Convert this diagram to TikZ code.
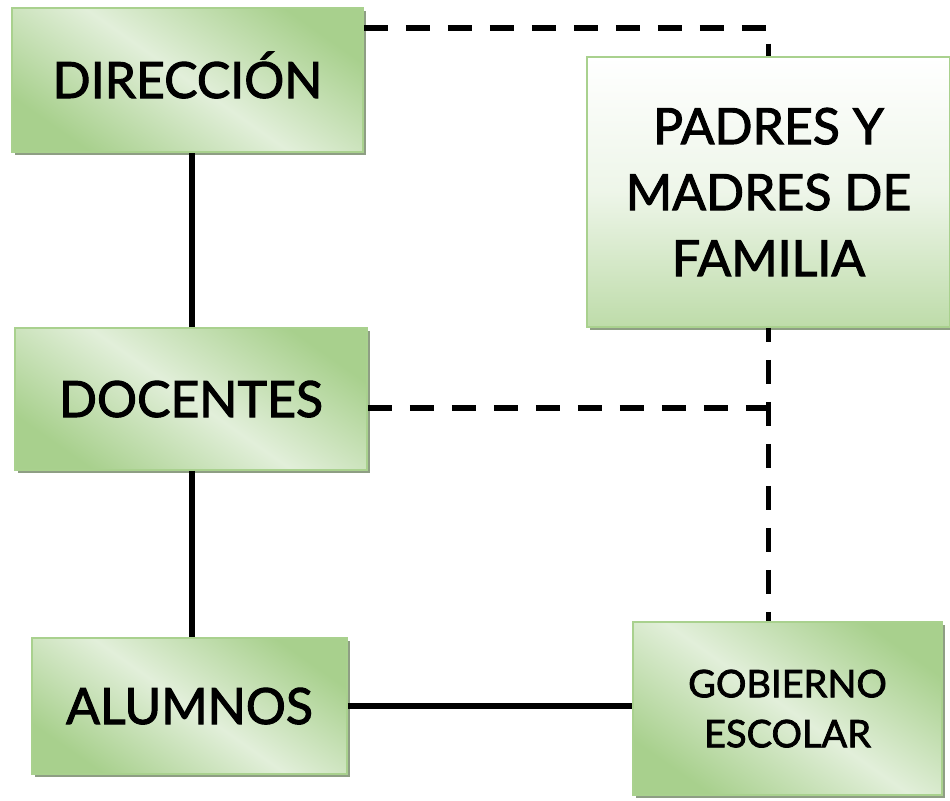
\documentclass[tikz,border=0pt]{standalone}
\usepackage{fontspec}
\setmainfont{Lato}[FakeBold=2]
\definecolor{boxgreen}{RGB}{168,208,141}
\definecolor{boxlight}{RGB}{226,239,218}
\definecolor{boxedge}{RGB}{169,209,142}
\definecolor{boxshadow}{RGB}{142,158,132}
\usetikzlibrary{shadows,calc}
\tikzset{
	unit/.style={
		rectangle,
		draw=boxedge,
		line width=0.8pt,
		inner sep=0pt,
		align=center,
		font=\fontsize{25}{33}\selectfont,
		top color=boxgreen,
		bottom color=boxgreen,
		middle color=boxlight,
		shading angle=-35,
		drop shadow={shadow xshift=1.5pt,shadow yshift=-1.5pt,fill=boxshadow,opacity=1},
	},
	unitV/.style={
		unit,
		top color=white,
		bottom color=boxgreen!75,
		middle color=boxlight!60,
		shading angle=0,
	},
	link/.style={
		line width=2.8pt,
	},
	dlink/.style={
		line width=2.8pt,
		dash pattern=on 12pt off 9pt,
	},
}

\begin{document}
\begin{tikzpicture}[x=0.5pt,y=-0.5pt]
	\useasboundingbox (0,0) rectangle (950,800);
	\node[unit,minimum width=175.5pt,minimum height=72pt,text height=18pt,text depth=0pt]  (dir) at (187.5,80)  {DIRECCIÓN};
	\node[unit,minimum width=176pt,minimum height=71pt,text height=18pt,text depth=0pt]    (doc) at (191,399)   {DOCENTES};
	\node[unit,minimum width=157.5pt,minimum height=68pt,text height=18pt,text depth=-5pt] (alu) at (189.5,706) {ALUMNOS};
	\node[unitV,minimum width=181.5pt,minimum height=135pt,text depth=-9pt] (pad) at (768.5,192) {PADRES Y\\MADRES DE\\FAMILIA};
	\node[unit,minimum width=154.5pt,minimum height=86.5pt,text depth=-5pt,font=\fontsize{19}{25}\selectfont] (gob) at (787.5,708.5) {GOBIERNO\\ESCOLAR};

	\draw[link] ([xshift=0.5pt]doc.north) -- ([xshift=0.5pt]doc.north |- dir.south);
	\draw[link] ([xshift=0.5pt]doc.south) -- ([xshift=0.5pt]doc.south |- alu.north);
	\draw[link] (alu.east) -- (alu.east -| gob.west);
	\draw[dlink] ([yshift=-10.5pt]dir.north east) -| (pad.north);
	\draw[dlink] ([yshift=-4.5pt]doc.east) -- ([yshift=-4.5pt]doc.east -| pad.south);
	\draw[dlink,dash phase=5pt] (pad.south) -- (pad.south |- gob.north);
\end{tikzpicture}
\end{document}
